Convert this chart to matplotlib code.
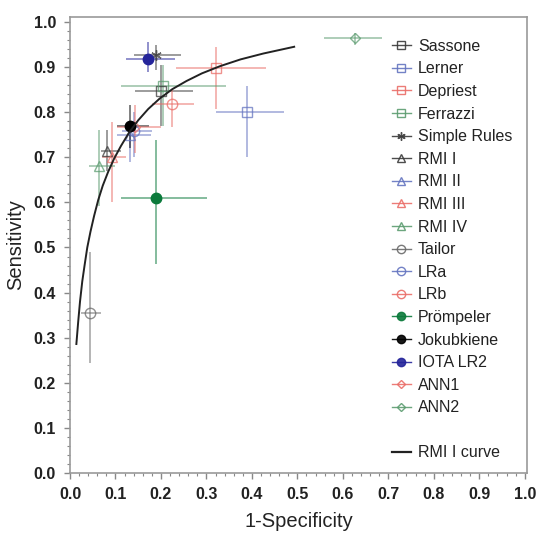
import matplotlib
matplotlib.use("Agg")
import matplotlib.pyplot as plt
from matplotlib.lines import Line2D
from matplotlib.ticker import MultipleLocator

plt.rcParams['font.family'] = ['Liberation Sans', 'DejaVu Sans']

# ---- data ----
names = ["Sassone", "Lerner", "Depriest", "Ferrazzi", "Simple Rules", "RMI I", "RMI II",
         "RMI III", "RMI IV", "Tailor", "LRa", "LRb", "Prömpeler", "Jokubkiene",
         "IOTA LR2", "ANN1", "ANN2"]
fpr = [0.20, 0.39, 0.32, 0.205, 0.19, 0.082, 0.132, 0.093, 0.064, 0.043, 0.14, 0.224,
       0.19, 0.132, 0.172, 0.143, 0.626]
fpr_lo = [0.143, 0.321, 0.233, 0.112, 0.141, 0.068, 0.104, 0.07, 0.042, 0.024, 0.115, 0.181,
          0.112, 0.104, 0.123, 0.104, 0.559]
fpr_hi = [0.27, 0.471, 0.431, 0.343, 0.244, 0.112, 0.178, 0.123, 0.10, 0.068, 0.18, 0.273,
          0.302, 0.174, 0.232, 0.20, 0.687]
sens = [0.848, 0.80, 0.897, 0.858, 0.927, 0.715, 0.749, 0.70, 0.68, 0.354, 0.758, 0.818,
        0.61, 0.769, 0.918, 0.767, 0.964]
sens_lo = [0.77, 0.70, 0.808, 0.77, 0.893, 0.67, 0.69, 0.60, 0.593, 0.243, 0.70, 0.767,
           0.464, 0.72, 0.888, 0.71, 0.949]
sens_hi = [0.905, 0.858, 0.945, 0.904, 0.949, 0.76, 0.767, 0.778, 0.76, 0.49, 0.80, 0.849,
           0.738, 0.816, 0.955, 0.816, 0.975]

curve_x = [0.014, 0.018, 0.022, 0.027, 0.032, 0.038, 0.045, 0.053, 0.062, 0.072, 0.084,
           0.097, 0.112, 0.13, 0.15, 0.172, 0.197, 0.225, 0.256, 0.29, 0.33, 0.375,
           0.425, 0.493]
curve_y = [0.286, 0.335, 0.38, 0.425, 0.46, 0.50, 0.535, 0.57, 0.605, 0.637, 0.668,
           0.697, 0.725, 0.755, 0.782, 0.807, 0.83, 0.851, 0.869, 0.886, 0.902, 0.917,
           0.93, 0.945]

BLK = '#3a3a3a'
BLU = '#6474c0'
RED = '#ea6e68'
GRN = '#5c9c70'
colors = [BLK, BLU, RED, GRN, BLK, BLK, BLU, RED, GRN, '#6a6a6a', BLU, RED,
          '#0b7a3b', '#000000', '#24249a', RED, GRN]
markers = ['s', 's', 's', 's', (6, 2, 0), '^', '^', '^', '^', 'o', 'o', 'o',
           'o', 'o', 'o', 'D', 'D']
filled = [False] * 12 + [True, True, True] + [False, False]

fig = plt.figure(figsize=(5.36, 5.34), dpi=100)
ax = fig.add_axes([70 / 536, 61 / 534, 457 / 536, 456 / 534])

handles = []
for i, n in enumerate(names):
    c = colors[i]
    xe = [[fpr[i] - fpr_lo[i]], [fpr_hi[i] - fpr[i]]]
    ye = [[sens[i] - sens_lo[i]], [sens_hi[i] - sens[i]]]
    ax.errorbar([fpr[i]], [sens[i]], xerr=xe, yerr=ye, fmt='none', ecolor=c,
                elinewidth=1.4, alpha=0.5, capsize=0, zorder=2)
    ms = 7.5 if markers[i] != 'D' else 5.5
    ax.plot([fpr[i]], [sens[i]], linestyle='none', marker=markers[i], ms=ms,
            mfc=c if filled[i] else 'none', mec=c, mew=1.0, alpha=1 if filled[i] else 0.75,
            zorder=4 if filled[i] else 3)
    handles.append(Line2D([0], [0], color=c, lw=1.0, marker=markers[i], ms=ms - 1.5,
                          mfc=c if filled[i] else 'none', mec=c, alpha=0.9))

ax.plot(curve_x, curve_y, color='#222222', lw=1.4, zorder=5)
handles.append(Line2D([0], [0], color='none'))
handles.append(Line2D([0], [0], color='#222222', lw=1.6))
labels = names + [" ", "RMI I curve"]

ax.set_xlim(0, 1.005)
ax.set_ylim(0, 1.011)
ax.set_xticks([v / 10 for v in range(11)])
ax.set_yticks([v / 10 for v in range(11)])
ax.xaxis.set_minor_locator(MultipleLocator(0.02))
ax.yaxis.set_minor_locator(MultipleLocator(0.02))
ax.tick_params(which='major', length=4, width=1.0, color='#888888', direction='out', pad=6)
ax.tick_params(which='minor', length=2.5, width=0.8, color='#888888', direction='out')
for s in ax.spines.values():
    s.set_color('#999999')
    s.set_linewidth(1.2)
ax.set_xticklabels([f"{v/10:.1f}" for v in range(11)], fontsize=11.5, fontweight='bold', color='#222222')
ax.set_yticklabels([f"{v/10:.1f}" for v in range(11)], fontsize=11.5, fontweight='bold', color='#222222')
ax.set_xlabel("1-Specificity", fontsize=14.5, color='#222222', labelpad=7)
ax.set_ylabel("Sensitivity", fontsize=14.5, color='#222222', labelpad=6)

leg = ax.legend(handles, labels, loc='upper left', bbox_to_anchor=(0.69, 0.966),
                frameon=False, fontsize=11.5, handlelength=1.2, handletextpad=0.45,
                labelspacing=0.475, borderaxespad=0)
for t in leg.get_texts():
    t.set_color('#222222')

fig.savefig("out.png", dpi=100)
